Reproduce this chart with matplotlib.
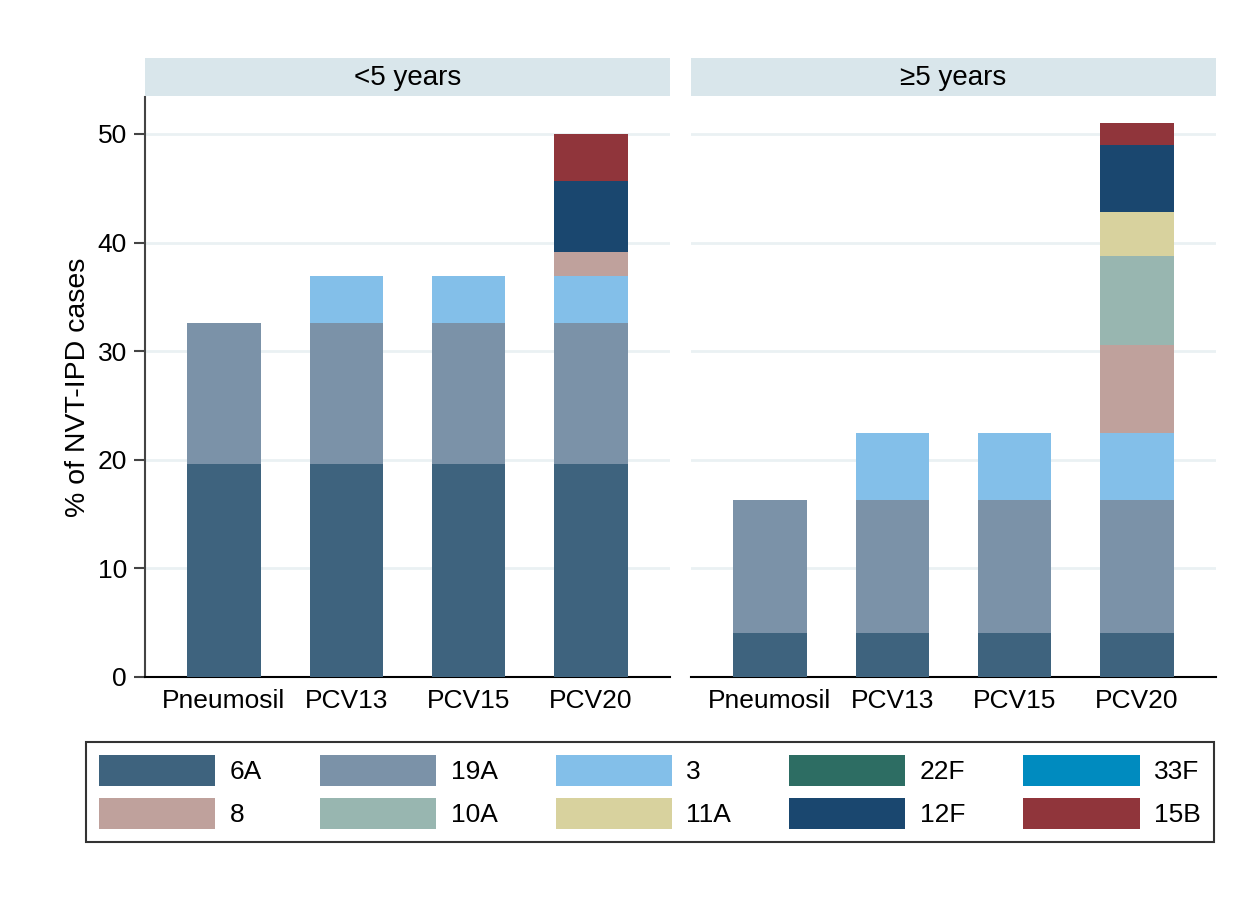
import numpy as np
import matplotlib.pyplot as plt
from matplotlib.patches import Patch

plt.rcParams['font.family'] = ['Liberation Sans', 'DejaVu Sans']

# Datos
vacunas = ['Pneumosil', 'PCV13', 'PCV15', 'PCV20']
serotipos = ['6A', '19A', '3', '22F', '33F', '8', '10A', '11A', '12F', '15B']
paneles = ['<5 years', '≥5 years']

# % de casos NVT-IPD, <5 años
menores = {
    '6A':  [19.57, 19.57, 19.57, 19.57],
    '19A': [13.04, 13.04, 13.04, 13.04],
    '3':   [0, 4.35, 4.35, 4.35],
    '22F': [0, 0, 0, 0],
    '33F': [0, 0, 0, 0],
    '8':   [0, 0, 0, 2.17],
    '10A': [0, 0, 0, 0],
    '11A': [0, 0, 0, 0],
    '12F': [0, 0, 0, 6.52],
    '15B': [0, 0, 0, 4.35],
}
# % de casos NVT-IPD, >=5 años
mayores = {
    '6A':  [4.08, 4.08, 4.08, 4.08],
    '19A': [12.24, 12.24, 12.24, 12.24],
    '3':   [0, 6.12, 6.12, 6.12],
    '22F': [0, 0, 0, 0],
    '33F': [0, 0, 0, 0],
    '8':   [0, 0, 0, 8.16],
    '10A': [0, 0, 0, 8.16],
    '11A': [0, 0, 0, 4.08],
    '12F': [0, 0, 0, 6.12],
    '15B': [0, 0, 0, 2.04],
}

colores = {
    '6A': '#3e637e', '19A': '#7b92a8', '3': '#83bfe9', '22F': '#2d6d63',
    '33F': '#008bbf', '8': '#bfa19c', '10A': '#98b6b0', '11A': '#d8d29e',
    '12F': '#1a476f', '15B': '#90353b',
}

W, H = 1248, 909
fig = plt.figure(figsize=(W / 100, H / 100), dpi=100)

def px_ax(x0, y0, x1, y1):
    return fig.add_axes([x0 / W, 1 - y1 / H, (x1 - x0) / W, (y1 - y0) / H])

x = np.arange(1, len(vacunas) + 1)
limites = [(145, 670), (691, 1216)]

for i, (datos, titulo) in enumerate(zip([menores, mayores], paneles)):
    x0, x1 = limites[i]
    ax = px_ax(x0, 97, x1, 677)
    base = np.zeros(len(vacunas))
    for s in serotipos:
        v = np.array(datos[s])
        ax.bar(x, v, bottom=base, width=0.6, color=colores[s], zorder=3)
        base += v
    ax.set_xlim(1 - 0.645, 4 + 0.645)
    ax.set_ylim(0, 53.4)
    ax.set_yticks([0, 10, 20, 30, 40, 50])
    ax.grid(axis='y', color='#eaf1f3', linewidth=2, zorder=0)
    ax.set_xticks(x)
    ax.set_xticklabels(vacunas, fontsize=19)
    ax.tick_params(axis='x', length=0, pad=9)
    for sp in ['top', 'right']:
        ax.spines[sp].set_visible(False)
    ax.spines['bottom'].set_color('black')
    ax.spines['bottom'].set_linewidth(1.5)
    if i == 0:
        ax.spines['left'].set_color('#444444')
        ax.spines['left'].set_linewidth(1.5)
        ax.tick_params(axis='y', labelsize=19, length=8, width=1.5,
                       color='#444444', pad=5)
        ax.set_ylabel('% of NVT-IPD cases', fontsize=20.5, labelpad=5)
    else:
        ax.spines['left'].set_visible(False)
        ax.tick_params(axis='y', left=False, labelleft=False)

    # franja del título
    st = px_ax(x0, 58, x1, 96)
    st.set_facecolor('#d9e6eb')
    st.set_xticks([])
    st.set_yticks([])
    for sp in st.spines.values():
        sp.set_visible(False)
    st.text(0.5, 0.47, titulo, ha='center', va='center', fontsize=20,
            transform=st.transAxes)

# Leyenda
orden = ['6A', '8', '19A', '10A', '3', '11A', '22F', '12F', '33F', '15B']
handles = [Patch(facecolor=colores[s], label=s) for s in orden]
leg = fig.legend(handles=handles, ncol=5, loc='center',
                 bbox_to_anchor=(650 / W, 1 - 792 / H), fontsize=19,
                 frameon=True, fancybox=False, edgecolor='black',
                 handlelength=4.4, handleheight=1.45, handletextpad=0.55,
                 columnspacing=2.2, labelspacing=0.45, borderpad=0.5)
leg.get_frame().set_linewidth(1.5)

fig.savefig('out.png', dpi=100, facecolor='white')
